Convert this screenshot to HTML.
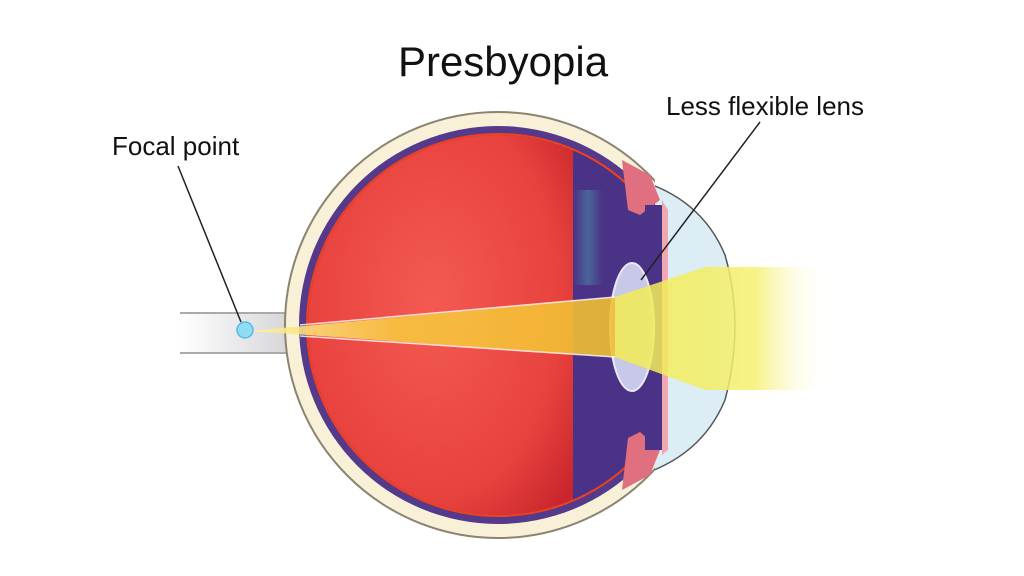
<!DOCTYPE html>
<html><head><meta charset="utf-8"><style>
html,body{margin:0;padding:0;background:#fff}
svg{display:block}
text{font-family:"Liberation Sans",sans-serif;fill:#111}
</style></head><body>
<svg width="1024" height="576" viewBox="0 0 1024 576" xmlns="http://www.w3.org/2000/svg">
<defs>
<radialGradient id="red" cx="0.5" cy="0.45" r="0.65">
<stop offset="0" stop-color="#f45a52"/><stop offset="0.7" stop-color="#e8423e"/><stop offset="1" stop-color="#c8262c"/>
</radialGradient>
<linearGradient id="beam" x1="0" x2="1">
<stop offset="0" stop-color="#fff3a0"/><stop offset="0.4" stop-color="#f8c840"/><stop offset="1" stop-color="#f2c030"/>
</linearGradient>
<linearGradient id="beamR" x1="0" x2="1">
<stop offset="0" stop-color="#f2ec50"/><stop offset="0.65" stop-color="#f4f070"/><stop offset="1" stop-color="#fff" stop-opacity="0"/>
</linearGradient>
<linearGradient id="nerve" x1="0" x2="1">
<stop offset="0" stop-color="#fff"/><stop offset="1" stop-color="#d4d4d8"/>
</linearGradient>
<linearGradient id="cil" x1="0" x2="1">
<stop offset="0" stop-color="#4a3286"/><stop offset="0.5" stop-color="#4a6a9a"/><stop offset="1" stop-color="#4a3286"/>
</linearGradient>
<clipPath id="inner"><circle cx="498" cy="325" r="190"/></clipPath>
<clipPath id="eyeclip"><rect x="0" y="0" width="655" height="576"/></clipPath>
</defs>
<!-- optic nerve -->
<rect x="180" y="313" width="115" height="40" fill="url(#nerve)"/>
<line x1="180" y1="313" x2="295" y2="313" stroke="#aaa" stroke-width="2"/>
<line x1="180" y1="353" x2="295" y2="353" stroke="#aaa" stroke-width="2"/>
<!-- cornea -->
<path d="M630 178 Q700 195 725 255 Q745 325 725 400 Q700 460 630 478 Z" fill="#dcedf5" stroke="#555" stroke-width="1.5"/>
<!-- sclera -->
<g clip-path="url(#eyeclip)">
<circle cx="498" cy="325" r="213" fill="#f8f1d8" stroke="#8a8470" stroke-width="2"/>
<circle cx="498" cy="325" r="199" fill="#553a8c"/>
<g clip-path="url(#inner)">
<rect x="290" y="110" width="285" height="430" fill="url(#red)"/>
<rect x="573" y="110" width="80" height="430" fill="#4a3286"/>
<rect x="573" y="190" width="30" height="95" fill="url(#cil)" opacity="0.9"/>
</g>
<circle cx="498" cy="325" r="191" fill="none" stroke="#f0401c" stroke-width="2"/>
</g>
<!-- iris/ciliary -->
<path d="M622 160 L650 175 L660 200 L640 215 L628 210 Z" fill="#e07080"/>
<path d="M622 490 L650 475 L660 450 L640 432 L628 438 Z" fill="#e07080"/>
<rect x="645" y="205" width="18" height="245" fill="#4a3286"/>
<path d="M662 200 L668 210 L668 450 L662 455 Z" fill="#f0a8b0"/>
<!-- lens -->
<ellipse cx="632" cy="327" rx="22" ry="64" fill="#c8c8e8" stroke="#e8e8f6" stroke-width="2"/>
<!-- beam right -->
<polygon points="615,297 705,267 830,267 830,390 705,390 615,357" fill="url(#beamR)" opacity="0.85"/>
<!-- beam converging -->
<polygon points="615,297 615,357 250,331" fill="url(#beam)" opacity="0.88"/>
<line x1="615" y1="297" x2="300" y2="325" stroke="#fff" stroke-width="1.5" opacity="0.8"/>
<line x1="615" y1="357" x2="300" y2="336" stroke="#fff" stroke-width="1.5" opacity="0.8"/>
<!-- focal point -->
<circle cx="245" cy="330" r="8" fill="#8fdcf5" stroke="#5ab8e0" stroke-width="1.5"/>
<!-- leader lines -->
<line x1="178" y1="166" x2="241" y2="322" stroke="#222" stroke-width="1.5"/>
<line x1="760" y1="122" x2="641" y2="280" stroke="#222" stroke-width="1.5"/>
<!-- labels -->
<text x="503" y="76" font-size="42" text-anchor="middle">Presbyopia</text>
<text x="112" y="155" font-size="26">Focal point</text>
<text x="666" y="115" font-size="26">Less flexible lens</text>
</svg>
</body></html>
